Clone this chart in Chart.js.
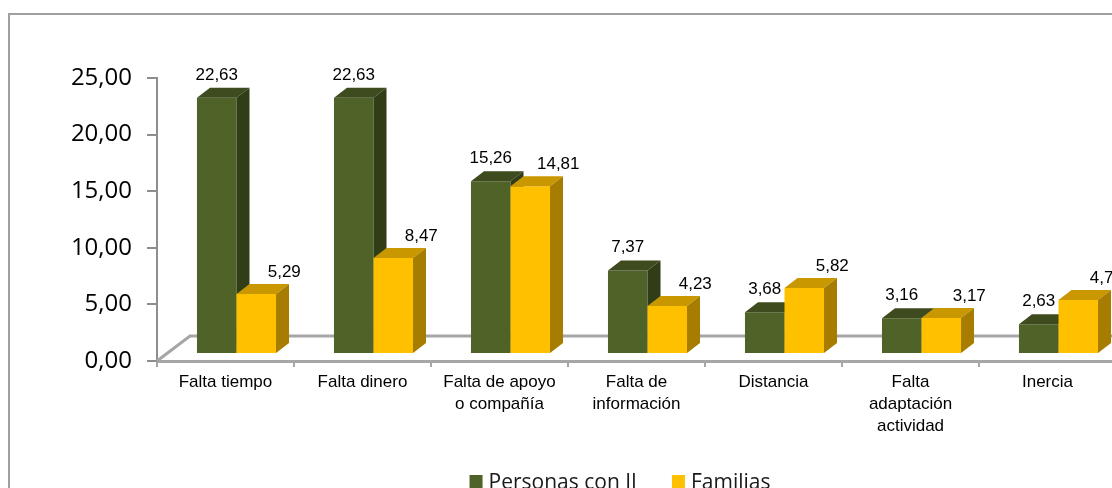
<!DOCTYPE html>
<html lang="es">
<head>
<meta charset="utf-8">
<title>Barreras</title>
<script src="https://cdn.jsdelivr.net/npm/chart.js@4"></script>
<style>
  html, body { margin: 0; padding: 0; background: #fff; }
  #wrap { position: relative; width: 1112px; height: 488px; overflow: hidden; }
  #frame { position: absolute; left: 8px; top: 13px; width: 1300px; height: 700px; border: 2px solid #a0a0a0; box-sizing: border-box; }
  #canvas { position: absolute; left: 0; top: 0; }
</style>
</head>
<body>
<div id="wrap">
  <div id="frame"></div>
  <canvas id="canvas" width="1200" height="520"></canvas>
</div>
<script>
'use strict';

const categories = [
  'Falta tiempo',
  'Falta dinero',
  ['Falta de apoyo', 'o compañía'],
  ['Falta de', 'información'],
  'Distancia',
  ['Falta', 'adaptación', 'actividad'],
  'Inercia',
];
const personasValues = [22.63, 22.63, 15.26, 7.37, 3.68, 3.16, 2.63];
const familiasValues = [5.29, 8.47, 14.81, 4.23, 5.82, 3.17, 4.76];
const yTickValues = [0, 5, 10, 15, 20, 25];

// fake 3d: bars sit a bit behind the front floor edge
const SHIFT_X = 11, SHIFT_Y = 7;
const DEPTH_X = 13, DEPTH_Y = 10;
const FLOOR_X = 33, FLOOR_Y = 25;
const labelOffsets = [[0, -23], [28, -22]];

const fmt = v => v.toFixed(2).replace('.', ',');

const face = (ctx, color, pts) => {
  ctx.fillStyle = color;
  ctx.beginPath();
  ctx.moveTo(pts[0][0], pts[0][1]);
  pts.slice(1).forEach(p => ctx.lineTo(p[0], p[1]));
  ctx.closePath();
  ctx.fill();
};

const bars3d = {
  id: 'bars3d',
  beforeDatasetsDraw(chart) {
    const { ctx, chartArea: a } = chart;
    ctx.save();
    ctx.strokeStyle = '#a6a6a6';
    ctx.lineWidth = 3;
    ctx.beginPath();
    ctx.moveTo(a.left, a.bottom);
    ctx.lineTo(a.left + FLOOR_X, a.bottom - FLOOR_Y);
    ctx.lineTo(chart.width, a.bottom - FLOOR_Y);
    ctx.stroke();
    ctx.restore();
  },
  // the default pass is skipped, bars are drawn below in dataset order
  beforeDatasetDraw() {
    return false;
  },
  afterDatasetsDraw(chart) {
    const ctx = chart.ctx;
    chart.data.datasets.forEach((ds, i) => {
      const meta = chart.getDatasetMeta(i);
      ctx.save();
      ctx.translate(SHIFT_X, -SHIFT_Y);
      meta.controller.draw();
      meta.data.forEach(bar => {
        const { x, y, base, width } = bar.getProps(['x', 'y', 'base', 'width'], true);
        const l = x - width / 2, r = x + width / 2;
        face(ctx, ds.topColor, [[l, y], [l + DEPTH_X, y - DEPTH_Y], [r + DEPTH_X, y - DEPTH_Y], [r, y]]);
        face(ctx, ds.sideColor, [[r, y], [r + DEPTH_X, y - DEPTH_Y], [r + DEPTH_X, base - DEPTH_Y], [r, base]]);
      });
      ctx.restore();
    });

    // value labels
    ctx.save();
    ctx.font = '17px "Liberation Sans", Arial, sans-serif';
    ctx.fillStyle = '#000';
    ctx.textAlign = 'center';
    ctx.textBaseline = 'middle';
    chart.data.datasets.forEach((ds, i) => {
      const [ox, oy] = labelOffsets[i];
      chart.getDatasetMeta(i).data.forEach((bar, j) => {
        ctx.fillText(fmt(ds.data[j]), bar.x + SHIFT_X + ox, bar.y - SHIFT_Y + oy);
      });
    });
    ctx.restore();
  },
  afterDraw(chart) {
    // legend along the bottom
    const ctx = chart.ctx;
    ctx.save();
    ctx.font = '21px "Open Sans", sans-serif';
    ctx.textBaseline = 'alphabetic';
    const box = 13, gap = 6, spacing = 35;
    const items = chart.data.datasets.map(ds => ({ label: ds.label, color: ds.backgroundColor, w: ctx.measureText(ds.label).width }));
    const total = items.reduce((s, it) => s + box + gap + it.w, 0) + spacing * (items.length - 1);
    let x = 620 - total / 2;
    items.forEach(it => {
      ctx.fillStyle = it.color;
      ctx.fillRect(x, 475, box, box);
      ctx.fillStyle = '#1a1a1a';
      ctx.fillText(it.label, x + box + gap, 489);
      x += box + gap + it.w + spacing;
    });
    ctx.restore();
  },
};

const chart = new Chart(document.getElementById('canvas').getContext('2d'), {
  type: 'bar',
  data: {
    labels: categories,
    datasets: [
      {
        label: 'Personas con II',
        data: personasValues,
        backgroundColor: '#4f6228',
        topColor: '#3d4b1f',
        sideColor: '#313d17',
      },
      {
        label: 'Familias',
        data: familiasValues,
        backgroundColor: '#ffc000',
        topColor: '#c99700',
        sideColor: '#a67d00',
      },
    ],
  },
  options: {
    responsive: false,
    devicePixelRatio: 1,
    animation: false,
    layout: { padding: { top: 78, left: 0, right: 84, bottom: 0 } },
    datasets: {
      bar: { categoryPercentage: 0.577, barPercentage: 1, borderWidth: 0, clip: false },
    },
    plugins: {
      legend: { display: false },
      tooltip: { enabled: false },
    },
    scales: {
      x: {
        border: { color: '#a6a6a6', width: 3 },
        grid: { drawOnChartArea: false, tickLength: 6, color: '#a6a6a6', lineWidth: 2, offset: true },
        ticks: {
          color: '#000',
          padding: 4,
          maxRotation: 0,
          autoSkip: false,
          font: { family: '"Liberation Sans", Arial, sans-serif', size: 17, lineHeight: 1.3 },
        },
        afterFit: scale => { scale.height = 159; },
      },
      y: {
        min: 0,
        max: 25,
        border: { color: '#8e8e8e', width: 2 },
        grid: { drawOnChartArea: false, tickLength: 10, color: '#8e8e8e', lineWidth: 2 },
        afterBuildTicks: scale => { scale.ticks = yTickValues.map(v => ({ value: v })); },
        ticks: {
          color: '#000',
          padding: 15,
          font: { family: '"Open Sans", sans-serif', size: 24 },
          callback: v => fmt(v),
        },
        afterFit: scale => { scale.width = 157; },
      },
    },
  },
  plugins: [bars3d],
});
</script>
</body>
</html>
